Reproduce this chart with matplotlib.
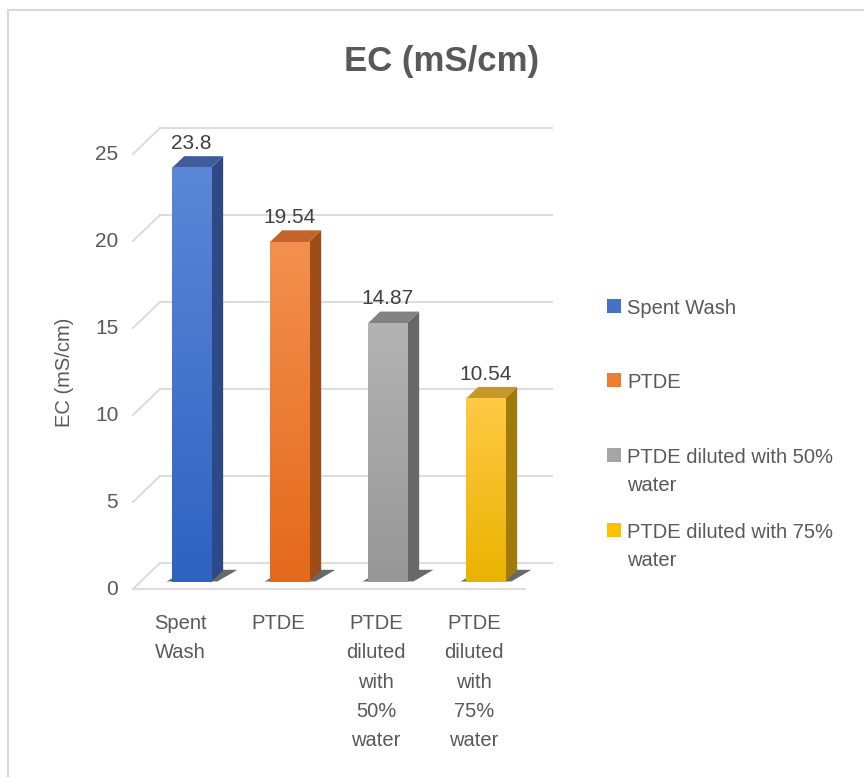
import matplotlib
matplotlib.use("Agg")
import matplotlib.pyplot as plt
from matplotlib.patches import Polygon, Rectangle
from matplotlib.colors import LinearSegmentedColormap
import numpy as np

plt.rcParams['font.family'] = ['Liberation Sans', 'DejaVu Sans']

# data
categories = ["Spent Wash", "PTDE", "PTDE diluted with 50%\nwater", "PTDE diluted with 75%\nwater"]
tick_names = ["Spent\nWash", "PTDE", "PTDE\ndiluted\nwith\n50%\nwater", "PTDE\ndiluted\nwith\n75%\nwater"]
ec_values = [23.8, 19.54, 14.87, 10.54]
value_labels = ["23.8", "19.54", "14.87", "10.54"]
y_ticks = [0, 5, 10, 15, 20, 25]

# colours of the bar faces
front_top = ["#5b87d6", "#f3904e", "#b3b3b3", "#ffca45"]
front_bot = ["#2f62c1", "#e4691b", "#979797", "#e9b300"]
side_col = ["#2d4a86", "#9d4d18", "#686868", "#a07b0c"]
top_col = ["#3f5d9d", "#c2642b", "#828282", "#c69828"]
legend_col = ["#4472c4", "#ed7d31", "#a5a5a5", "#ffc000"]
text_col = "#595959"
grid_col = "#d9d9d9"

W, H, DPI = 864, 777, 100
fig = plt.figure(figsize=(W / DPI, H / DPI), dpi=DPI)

# axes placed so that one category = 98 px and one unit = 17.4 px
px_cat, px_val = 98.0, 17.4
cx0, cy0 = 191.5, 582.0
xlim = (-0.75, 3.9)
ylim = (-1.5, 27.0)
left = cx0 + xlim[0] * px_cat
right = cx0 + xlim[1] * px_cat
bottom = cy0 - ylim[0] * px_val
top = cy0 - ylim[1] * px_val
ax = fig.add_axes([left / W, 1 - bottom / H, (right - left) / W, (bottom - top) / H])

# simple oblique projection for the 3-D look
D0 = 0.27
DX = 27.0 / px_cat
DY = 26.0 / px_val


def proj(x, y, d):
    return x + (d - D0) * DX, y + (d - D0) * DY


x_left, x_right = -0.523, 3.478

# back wall gridlines and left wall diagonals
for v in y_ticks:
    p1, p2 = proj(x_left, v, 1), proj(x_right, v, 1)
    ax.plot([p1[0], p2[0]], [p1[1], p2[1]], color=grid_col, lw=1.3, zorder=0)
    q1, q2 = proj(x_left, v, 0), proj(x_left, v, 1)
    ax.plot([q1[0], q2[0]], [q1[1], q2[1]], color=grid_col, lw=1.3, zorder=0)
    ax.text(q1[0] - 0.15, q1[1], str(v), ha='right', va='center',
            fontsize=15, color=text_col)

# floor front edge
f1, f2 = proj(x_left, 0, 0), proj(x_right, 0, 0)
ax.plot([f1[0], f2[0]], [f1[1], f2[1]], color=grid_col, lw=1.3, zorder=0)

w = 0.398
d1 = D0 + 0.45
grad = np.linspace(0, 1, 256).reshape(-1, 1)
for i, v in enumerate(ec_values):
    xl, xr = i - w / 2, i + w / 2
    # soft shadow on the floor
    sh = [proj(xl - 0.06, 0, D0 + 0.02), proj(xr + 0.06, 0, D0 + 0.02),
          proj(xr + 0.14, 0, d1 + 0.02), proj(xl + 0.02, 0, d1 + 0.02)]
    ax.add_patch(Polygon(sh, closed=True, facecolor="#2a2a2a", alpha=0.7,
                         edgecolor='none', zorder=1))
    # front face with a vertical gradient
    cmap = LinearSegmentedColormap.from_list("f%d" % i, [front_bot[i], front_top[i]])
    ax.imshow(grad, cmap=cmap, origin='lower', extent=(xl, xr, 0, v),
              aspect='auto', zorder=3)
    # side and top faces
    side = [proj(xr, 0, D0), proj(xr, v, D0), proj(xr, v, d1), proj(xr, 0, d1)]
    ax.add_patch(Polygon(side, closed=True, facecolor=side_col[i], edgecolor='none', zorder=2))
    tp = [proj(xl, v, D0), proj(xr, v, D0), proj(xr, v, d1), proj(xl, v, d1)]
    ax.add_patch(Polygon(tp, closed=True, facecolor=top_col[i], edgecolor='none', zorder=2))
    # data label
    ax.text(i, v + 1.4, value_labels[i], ha='center', va='center',
            fontsize=15, color="#404040")
    # category label
    ax.text(i - 0.117, -1.85, tick_names[i], ha='center', va='top', fontsize=14.5,
            color=text_col, linespacing=1.68, clip_on=False)

ax.set_xlim(*xlim)
ax.set_ylim(*ylim)
ax.axis('off')

# title and axis title
fig.text(442 / W, 1 - 62 / H, "EC (mS/cm)", ha='center', va='center',
         fontsize=25, fontweight='bold', color=text_col)
fig.text(65 / W, 1 - 372 / H, "EC (mS/cm)", ha='center', va='center',
         rotation=90, fontsize=14.5, color=text_col)

# legend
leg_y = [306, 380, 455, 530]
for i, name in enumerate(categories):
    y = leg_y[i]
    fig.add_artist(Rectangle((607 / W, 1 - (y + 7) / H), 14 / W, 14 / H,
                             transform=fig.transFigure, facecolor=legend_col[i],
                             edgecolor='none'))
    fig.text(627 / W, 1 - (y - 7) / H, name, ha='left', va='top', fontsize=14.5,
             color=text_col, linespacing=1.62)

# chart area border (only top and left visible)
fig.add_artist(Rectangle((8 / W, -0.5), 2, 0.5 + 1 - 10 / H, transform=fig.transFigure,
                         fill=False, edgecolor=grid_col, lw=1.5))

fig.savefig("out.png", dpi=DPI)
